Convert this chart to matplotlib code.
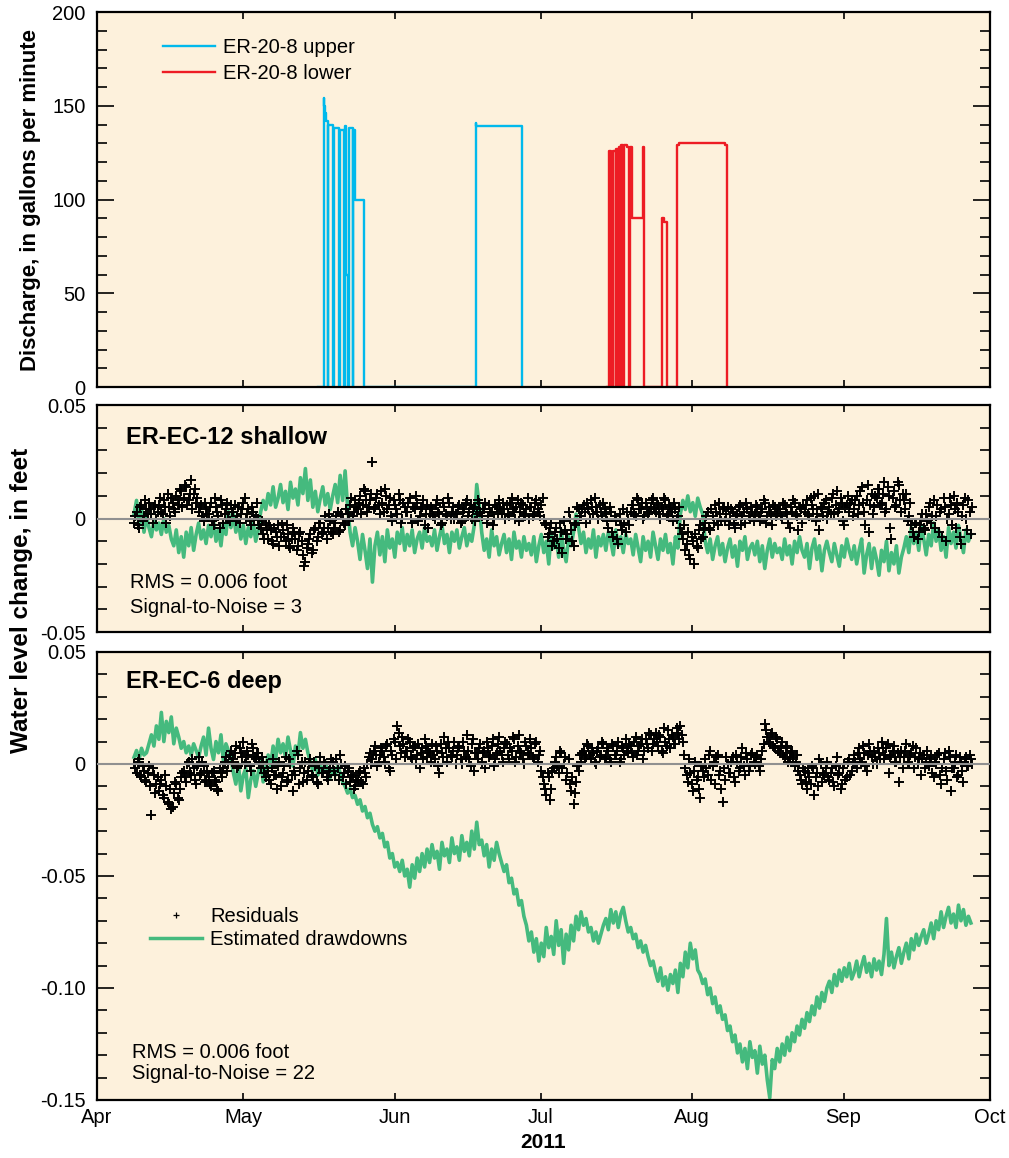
import datetime as dt
import numpy as np
import matplotlib
matplotlib.use('Agg')
import matplotlib.pyplot as plt
import matplotlib.dates as mdates
from matplotlib.lines import Line2D
from matplotlib.ticker import MultipleLocator, FuncFormatter

plt.rcParams['font.family'] = ['Liberation Sans Narrow', 'Liberation Sans', 'DejaVu Sans']

# pumping at ER-20-8, days after 1 April 2011 (step values, gal/min)
blue_day = [45.29, 46.51, 46.62, 46.77, 46.92, 47.27, 47.39, 48.43, 48.55, 49.59, 49.71, 50.62,
            50.74, 51.02, 51.50, 51.62, 52.40, 52.52, 52.86, 54.78, 77.60, 77.76, 87.02]
blue_q = [0, 154, 150, 146, 142, 0, 140, 0, 138, 0, 137, 0,
          139, 60, 0, 138, 0, 137, 100, 0, 141, 139, 0]
red_day = [104.43, 104.92, 105.26, 105.44, 105.80, 106.29, 106.41, 106.83, 106.95, 107.31,
           107.43, 107.85, 107.97, 108.67, 109.08, 109.19, 109.70, 111.83, 112.16, 115.71,
           116.13, 116.74, 118.79, 119.29, 128.75, 129.04]
red_q = [0, 126, 77, 0, 126, 0, 127, 0, 128, 0,
         129, 0, 129, 128, 0, 128, 90, 128, 0, 90,
         88, 0, 129, 130, 129, 0]

# water level data, about two readings a day, 8 Apr - 27 Sep, in 0.001 ft
wl_start = 7.6
wl_end = 179.1
res12 = [-2, 3, -4, 6, 1, 4, 7, 2, 5, 0,
         6, 3, 8, -2, 5, 9, 4, 10, 6, 12,
         9, 14, 8, 17, 11, 7, 3, 6, -1, 4,
         2, 7, -3, 5, 1, 8, -2, 4, 0, 6,
         3, -1, 5, 2, 7, 0, 4, -3, 3, 1,
         0, -4, -7, -2, -9, -5, -11, -6, -3, -8,
         -5, -10, -7, -13, -4, -9, -12, -6, -16, -19,
         -11, -7, -14, -4, -8, -2, -6, 1, -4, -1,
         -7, -2, 3, -5, 0, -3, 2, 6, 1, 8,
         4, 10, 6, 12, 3, 8, 25, 5, 11, 2,
         7, 13, 4, 9, -1, 6, 2, 8, 0, 5,
         3, 9, -2, 4, 7, 1, 5, -3, 6, 2,
         4, 0, 8, 2, -2, 5, 1, 7, 3, 0,
         2, 6, -1, 4, 8, 3, 0, 5, 2, 7,
         1, 4, -2, 6, 3, 0, 5, 8, 2, 4,
         6, 1, 9, 3, 5, -1, 7, 2, 4, 0,
         5, 2, 8, 3, 6, 0, -3, -7, -2, -10,
         -4, -13, -6, -1, -9, 3, -5, -12, -2, 4,
         1, 6, -2, 4, 8, 2, 5, 0, 3, 7,
         2, -4, 3, -8, -1, -11, -3, 4, -6, 0,
         3, 6, 1, 8, 4, 0, 7, 2, 5, 9,
         3, 6, 0, 4, 8, 2, 5, -1, 4, 1,
         -4, -9, -14, -6, -18, -10, -7, -13, -3, -8,
         -2, 3, -5, 1, 6, -3, 2, 4, -1, 5,
         0, 3, -4, 2, 6, 1, -2, 4, 0, 3,
         2, 5, -1, 4, 7, 1, 3, -3, 5, 2,
         4, 0, 6, 2, -4, 3, 7, 1, 5, -2,
         3, 8, 1, 6, 10, 2, -5, 4, 7, 0,
         5, 9, 2, 12, 4, 7, -3, 6, 3, 8,
         4, 10, 6, 14, 3, 8, -6, 11, 5, 9,
         13, 7, 16, 4, 10, -9, 12, 6, 15, 3,
         8, 11, 1, -3, -8, -2, -6, 0, -4, 2,
         5, -2, 8, 1, -6, 4, 9, -10, 2, 6,
         10, -4, 3, -11, 6, 0, 8, -7]
res12_b = [1, -3, 5, -1, 8, 2, 4, -2, 6, 3,
           9, 2, 5, 11, 1, 7, 3, 8, 13, 5,
           15, 6, 11, 4, 13, 9, 5, 1, 7, 2,
           5, -1, 9, 3, -4, 6, 2, 7, -1, 3,
           6, 1, -2, 4, 9, 2, -1, 5, 0, 7,
           -3, -1, -9, -5, -3, -10, -4, -8, -12, -2,
           -8, -3, -12, -9, -6, -14, -7, -10, -21, -13,
           -9, -15, -5, -10, -2, -7, -4, -9, 2, -6,
           -4, 1, -6, 2, -2, 4, -1, 9, 3, 5,
           7, 2, 13, 8, 5, 11, 4, 9, 6, 12,
           3, 10, 6, 1, 8, 4, 11, -2, 7, 3,
           7, 0, 5, 10, -1, 4, 8, 2, -4, 5,
           1, 6, 3, -3, 7, 2, 9, 0, 5, 2,
           5, -2, 3, 7, 1, 6, 4, -1, 8, 3,
           4, 7, 1, 3, -3, 6, 2, 4, 7, 0,
           2, 7, 4, 0, 8, 3, 6, 1, 9, 5,
           1, 7, 4, 1, 9, -2, -8, -4, -12, -6,
           -9, -2, -15, -5, -7, 0, -10, -3, 5, 1,
           4, 3, 7, 0, 5, 9, 3, 6, 1, 4,
           -1, 5, -6, 1, -9, 2, -5, -2, 3, -3,
           6, 2, 9, 4, 7, 1, 5, 3, 8, 4,
           7, 2, 5, 9, 1, 6, 3, 7, 0, 5,
           -7, -3, -11, -16, -8, -20, -12, -5, -9, -4,
           1, -4, 4, -2, 3, 7, -1, 5, 2, -3,
           4, -2, 1, 5, -3, 3, 7, 1, 5, -1,
           6, 1, 3, 8, -2, 5, 2, 6, 1, 4,
           1, 7, 3, -2, 5, 8, 2, -5, 4, 6,
           6, 2, 9, 4, -1, 11, 5, 1, 8, 3,
           2, 11, 6, 3, 9, -1, 5, 10, 7, 1,
           8, 2, 12, 7, -3, 15, 6, 2, 10, 13,
           6, 11, 3, 14, -4, 9, 5, 16, 8, 11,
           4, -1, 7, -6, -2, -9, -3, 2, -5, -1,
           7, 1, -4, 6, 3, -8, 5, 0, 9, -3,
           4, 7, -8, 1, 9, -5, 3, 5]
dd12 = [2, 8, -3, 5, -6, 1, -4, -8, -1, -5,
        -2, -7, 0, -6, -3, -9, -12, -5, -15, -8,
        -17, -6, -12, -4, -14, -7, -2, -9, -5, -11,
        -3, -8, -1, -10, -5, -12, -2, -7, 3, -4,
        2, -6, -1, -9, -3, -11, -4, -8, -2, -10,
        -5, 3, 8, 4, 11, 6, 14, 5, 9, 15,
        7, 12, 4, 16, 9, 13, 6, 18, 11, 22,
        8, 17, 5, 12, 3, 9, 14, 6, 11, 4,
        10, 15, 7, 19, 8, 21, 5, -6, -12, -4,
        -10, -18, -7, -14, -22, -9, -28, -12, -6, -16,
        -8, -19, -5, -13, -9, -17, -6, -11, -4, -14,
        -7, -12, -5, -15, -9, -6, -13, -4, -10, -8,
        -12, -5, -14, -8, -3, -11, -7, -15, -6, -10,
        -5, -13, -8, -4, -12, -7, -10, -3, 15, 6,
        -6, -14, -9, -17, -5, -12, -8, -16, -11, -7,
        -15, -9, -18, -6, -13, -10, -17, -8, -14, -11,
        -16, -8, -19, -12, -7, -15, -10, -20, -6, -13,
        -9, -17, -5, -14, -19, -8, -12, -6, 2, -4,
        -11, -6, -15, -9, -13, -5, -17, -8, -12, -7,
        -14, -6, -10, -16, -5, -12, -8, -15, -7, -11,
        -9, -16, -7, -13, -19, -8, -14, -10, -17, -6,
        -12, -18, -9, -14, -7, -15, -11, -20, -8, -13,
        2, 8, 4, 10, 3, 7, 1, 9, 5, 2,
        -10, -15, -9, -18, -12, -8, -16, -11, -19, -13,
        -9, -17, -12, -21, -10, -14, -8, -18, -13, -11,
        -16, -10, -19, -12, -22, -14, -9, -17, -11, -15,
        -13, -18, -9, -16, -12, -20, -10, -15, -8, -14,
        -17, -11, -22, -13, -9, -18, -12, -23, -14, -10,
        -15, -19, -11, -16, -21, -12, -17, -9, -14, -18,
        -12, -20, -14, -9, -24, -16, -11, -22, -13, -18,
        -25, -14, -19, -10, -23, -15, -20, -12, -24, -17,
        -13, -8, -15, -4, -11, -6, -14, -3, -9, -16,
        -7, -12, -2, -10, -5, -14, -8, -17, -4, -11,
        -6, -13, -3, -9, -15, -5, -10, -7]
res6 = [0, -4, 2, -6, -3, -8, -1, -23, -5, -9,
        -12, -7, -15, -10, -18, -20, -13, -9, -16, -6,
        -3, -8, 1, -5, -2, -9, 3, -4, -1, -7,
        -6, -10, -3, -8, -12, -4, -2, 3, 0, 6,
        2, 8, -1, 5, 10, 1, 4, -3, 7, 2,
        5, -2, 1, -6, -3, -9, 2, -5, -1, -10,
        -4, 3, -7, 0, -12, -5, 4, -2, -8, 1,
        -3, 2, -6, -1, -9, 3, -4, 0, -7, -2,
        1, -5, -2, 4, -6, -1, -3, -8, -5, -10,
        -7, -3, -9, -4, 0, 5, 2, 8, -1, 4,
        6, 1, 9, -3, 4, 10, 17, 8, 12, 3,
        6, 10, 2, 8, 4, -2, 7, 11, 3, 5,
        9, 2, 6, -4, 5, 12, 1, 7, 3, 10,
        4, 8, 0, 6, 13, 2, 9, -3, 5, 7,
        1, 6, 10, 3, 8, -1, 5, 12, 4, 7,
        9, 2, 6, 11, 3, 13, 5, 0, 8, 4,
        7, 2, 10, 4, -3, -9, -14, -6, -11, -2,
        3, -4, 5, 0, -7, 2, -12, -18, -8, -3,
        1, 6, 3, 8, 2, 5, 0, 7, 4, 9,
        3, 6, 1, 8, 4, 10, 2, 7, 11, 5,
        8, 3, 12, 6, 9, 2, 11, 7, 13, 9,
        14, 8, 12, 5, 10, 15, 7, 12, 9, 14,
        17, 10, -2, -8, -4, -12, 1, -6, -15, -3,
        2, -5, 6, -1, -9, 4, -3, -17, -7, 0,
        -4, 3, -8, 1, -2, 7, -5, 2, -1, 5,
        0, 4, -3, 6, 18, 12, 9, 14, 7, 11,
        5, 10, 3, 8, 2, 6, -1, 4, -5, -9,
        -3, -11, -6, -1, -14, -4, 2, -8, -5, 1,
        -7, -2, -10, 3, -4, -9, 0, -6, 2, -3,
        4, -2, 7, 1, 5, -3, 9, 3, 6, 0,
        5, 10, 2, 7, -4, 4, 8, 1, -8, 6,
        3, 9, 0, 5, -2, 7, 2, -5, 4, 1,
        -1, 3, -6, 0, 5, -9, 2, -3, 6, -12,
        -2, 4, -5, 1, -8, 3, -1, 2]
res6_b = [-2, 1, -5, -1, -7, -4, -10, -2, -13, -6,
          -9, -14, -5, -17, -11, -19, -8, -15, -11, -4,
          -6, 0, -4, 2, -7, -1, -5, 1, -8, -3,
          -9, -4, -7, -11, -2, -6, 1, -3, 4, 1,
          5, -2, 7, 3, 0, 6, -1, 9, 3, 5,
          1, 3, -4, 0, -7, -2, -5, -11, 1, -6,
          -1, -8, 2, -5, -3, 6, -9, 1, -4, -7,
          0, -5, 1, -8, -2, -4, 1, -6, -3, 2,
          -3, 2, -7, 0, -4, -9, -2, -6, -11, -7,
          -4, -8, -2, -6, 3, 0, 6, 4, 1, 7,
          3, 8, -2, 6, 11, 2, 14, 5, 9, 6,
          11, 3, 7, 0, 9, 5, 2, 8, 6, 1,
          4, 8, -1, 9, 3, 7, 10, 4, 6, 0,
          7, 2, 10, 3, 6, -1, 11, 5, 2, 9,
          5, -2, 7, 4, 11, 2, 9, 6, 1, 10,
          4, 7, 12, 1, 8, 6, 2, 10, 5, 11,
          3, 9, 1, 6, -6, -11, -4, -16, -3, 1,
          -1, 6, -2, 3, -4, -9, -6, -13, -1, 4,
          5, 2, 9, 4, 7, 1, 6, 3, 10, 2,
          7, 2, 9, 4, 6, 1, 8, 4, 6, 9,
          5, 10, 4, 8, 11, 6, 9, 14, 6, 11,
          10, 13, 6, 16, 8, 11, 13, 9, 16, 11,
          13, 4, -5, 2, -9, -3, -7, -11, -1, -6,
          -2, 4, -7, 1, 3, -5, -11, -2, 3, -4,
          1, -6, 4, -3, 3, -1, 5, -3, 4, 1,
          3, -1, 2, 9, 15, 10, 13, 8, 12, 6,
          8, 4, 7, 1, 5, 3, 1, -3, -7, -2,
          -8, -4, -9, -2, -6, -10, 0, -4, -2, -6,
          -4, -8, -1, -5, -11, -2, -7, 1, -5, 0,
          1, 5, 2, 8, -1, 4, 6, 0, 3, 7,
          2, 7, 4, 9, 3, 6, 1, 5, 3, -2,
          6, 1, 4, 8, 3, 0, 5, 2, -2, 6,
          2, -4, 1, 4, -5, -2, 5, -7, 3, -2,
          1, -6, 3, -3, 2, -1, 4, 0]
dd6 = [3, 6, 2, 7, 4, 5, 9, 13, 8, 17,
       11, 23, 10, 19, 14, 21, 9, 16, 12, 7,
       10, 5, 8, 4, 9, 6, 3, 8, 12, 4,
       16, 7, 2, 10, 5, 13, 1, 9, 6, 3,
       -4, -9, 0, -12, -5, -2, -15, -7, -3, -10,
       -4, 1, -8, -2, 4, -1, 8, 2, 11, 5,
       9, 3, 12, 6, -1, 8, 4, 14, 7, 11,
       5, 1, -3, 2, -5, -1, -4, 1, -3, -6,
       -2, -5, -1, -4, -8, -10, -13, -11, -15, -14,
       -18, -16, -21, -19, -24, -22, -27, -30, -28, -33,
       -31, -37, -35, -42, -40, -46, -44, -48, -43, -50,
       -47, -55, -45, -51, -42, -48, -40, -46, -38, -44,
       -36, -42, -39, -47, -35, -41, -38, -44, -33, -40,
       -37, -43, -32, -39, -35, -41, -30, -38, -26, -36,
       -34, -41, -36, -46, -38, -43, -35, -40, -44, -48,
       -45, -53, -51, -58, -56, -63, -61, -68, -72, -79,
       -75, -84, -78, -88, -80, -86, -73, -82, -77, -85,
       -70, -81, -74, -89, -76, -83, -72, -79, -68, -74,
       -66, -72, -69, -75, -73, -79, -75, -80, -76, -72,
       -69, -74, -65, -71, -66, -73, -67, -64, -70, -75,
       -73, -78, -76, -82, -79, -84, -81, -86, -90, -88,
       -93, -97, -91, -99, -95, -101, -94, -98, -92, -102,
       -89, -95, -84, -91, -80, -87, -83, -92, -94, -98,
       -96, -103, -100, -107, -104, -111, -108, -114, -112, -119,
       -117, -124, -121, -129, -125, -133, -127, -136, -124, -131,
       -128, -138, -126, -134, -130, -141, -149, -132, -136, -127,
       -133, -125, -130, -122, -128, -120, -124, -117, -121, -114,
       -118, -111, -115, -108, -112, -104, -109, -102, -106, -100,
       -97, -102, -94, -99, -92, -97, -91, -95, -89, -96,
       -93, -88, -95, -90, -86, -93, -89, -95, -87, -92,
       -88, -94, -85, -69, -90, -84, -91, -86, -82, -89,
       -84, -80, -87, -78, -83, -76, -81, -77, -74, -80,
       -76, -71, -78, -70, -74, -66, -73, -68, -64, -71,
       -67, -73, -63, -70, -65, -72, -68, -71]

bg = '#FDF1DC'
c_blue = '#00B9EC'
c_red = '#ED1C24'
c_green = '#45BA7E'

base = mdates.date2num(dt.datetime(2011, 4, 1))
t_blue = base + np.array(blue_day)
t_red = base + np.array(red_day)


def wl_time(vals, shift=0.0):
    t = np.linspace(wl_start, wl_end, len(vals))
    return base + t + shift * (t[1] - t[0])


fig = plt.figure(figsize=(10.09, 11.58), dpi=100)
ax1 = fig.add_axes([0.0961, 0.6658, 0.8850, 0.3238])
ax2 = fig.add_axes([0.0961, 0.4542, 0.8850, 0.1960])
ax3 = fig.add_axes([0.0961, 0.0501, 0.8850, 0.3869])

# discharge
ax1.step(t_blue, blue_q, where='post', color=c_blue, lw=1.7, label='ER-20-8 upper')
ax1.step(t_red, red_q, where='post', color=c_red, lw=1.7, label='ER-20-8 lower')
ax1.set_ylim(0, 200)
ax1.yaxis.set_major_locator(MultipleLocator(50))
ax1.yaxis.set_minor_locator(MultipleLocator(10))
ax1.set_ylabel('Discharge, in gallons per minute', fontsize=16, fontweight='bold', labelpad=8)
ax1.legend(loc='upper left', bbox_to_anchor=(0.074, 0.93), frameon=False, fontsize=14.5,
           handlelength=2.6, handletextpad=0.4, labelspacing=0.33, borderpad=0, borderaxespad=0)

# water levels
for ax, res_a, res_b, dd in [(ax2, res12, res12_b, dd12), (ax3, res6, res6_b, dd6)]:
    ax.plot(wl_time(dd), np.array(dd) * 0.001, color=c_green, lw=2.6, zorder=2)
    for res, sh in [(res_a, 0.0), (res_b, 0.5)]:
        ax.plot(wl_time(res, sh), np.array(res) * 0.001, ls='none', marker='+', ms=7.5,
                mew=1.4, color='black', zorder=3)
    ax.axhline(0, color='#909090', lw=1.5, zorder=4)
    ax.yaxis.set_major_locator(MultipleLocator(0.05))
    ax.yaxis.set_minor_locator(MultipleLocator(0.01))
    ax.yaxis.set_major_formatter(FuncFormatter(lambda v, p: '0' if abs(v) < 1e-9 else '%.2f' % v))

ax2.set_ylim(-0.05, 0.05)
ax3.set_ylim(-0.15, 0.05)

ax2.text(0.0325, 0.855, 'ER-EC-12 shallow', transform=ax2.transAxes, fontsize=17,
         fontweight='bold', va='center')
ax2.text(0.037, 0.22, 'RMS = 0.006 foot', transform=ax2.transAxes, fontsize=14.5, va='center')
ax2.text(0.037, 0.11, 'Signal-to-Noise = 3', transform=ax2.transAxes, fontsize=14.5, va='center')

ax3.text(0.0325, 0.935, 'ER-EC-6 deep', transform=ax3.transAxes, fontsize=17,
         fontweight='bold', va='center')
ax3.text(0.039, 0.107, 'RMS = 0.006 foot', transform=ax3.transAxes, fontsize=14.5, va='center')
ax3.text(0.039, 0.06, 'Signal-to-Noise = 22', transform=ax3.transAxes, fontsize=14.5, va='center')

h_res = Line2D([], [], ls='none', marker='+', ms=4, mew=0.9, color='black')
h_dd = Line2D([], [], color=c_green, lw=2.5)
ax3.legend([h_res, h_dd], ['Residuals', 'Estimated drawdowns'], loc='upper left',
           bbox_to_anchor=(0.059, 0.43), frameon=False, fontsize=14.5, handlelength=2.6,
           handletextpad=0.4, labelspacing=0.2, borderpad=0, borderaxespad=0)

fig.text(22 / 1009, 1 - 600 / 1158, 'Water level change, in feet', rotation=90,
         fontsize=17.5, fontweight='bold', ha='center', va='center')

for ax in (ax1, ax2, ax3):
    ax.set_facecolor(bg)
    ax.set_xlim(base, mdates.date2num(dt.datetime(2011, 10, 1)))
    ax.xaxis.set_major_locator(mdates.MonthLocator())
    ax.xaxis.set_major_formatter(mdates.DateFormatter('%b'))
    ax.tick_params(axis='x', which='major', direction='in', length=5, width=1.2,
                   top=True, bottom=True, labelsize=14.5, pad=6)
    ax.tick_params(axis='y', which='major', direction='in', length=12, width=1.2,
                   left=True, right=True, labelsize=14.5, pad=8)
    ax.tick_params(axis='y', which='minor', direction='in', length=7, width=1.2,
                   left=True, right=True)
    for s in ax.spines.values():
        s.set_linewidth(1.6)

ax1.tick_params(axis='x', labelbottom=False)
ax2.tick_params(axis='x', labelbottom=False)
ax3.set_xlabel('2011', fontsize=15, fontweight='bold', labelpad=4)

fig.savefig('out.png', dpi=100)
